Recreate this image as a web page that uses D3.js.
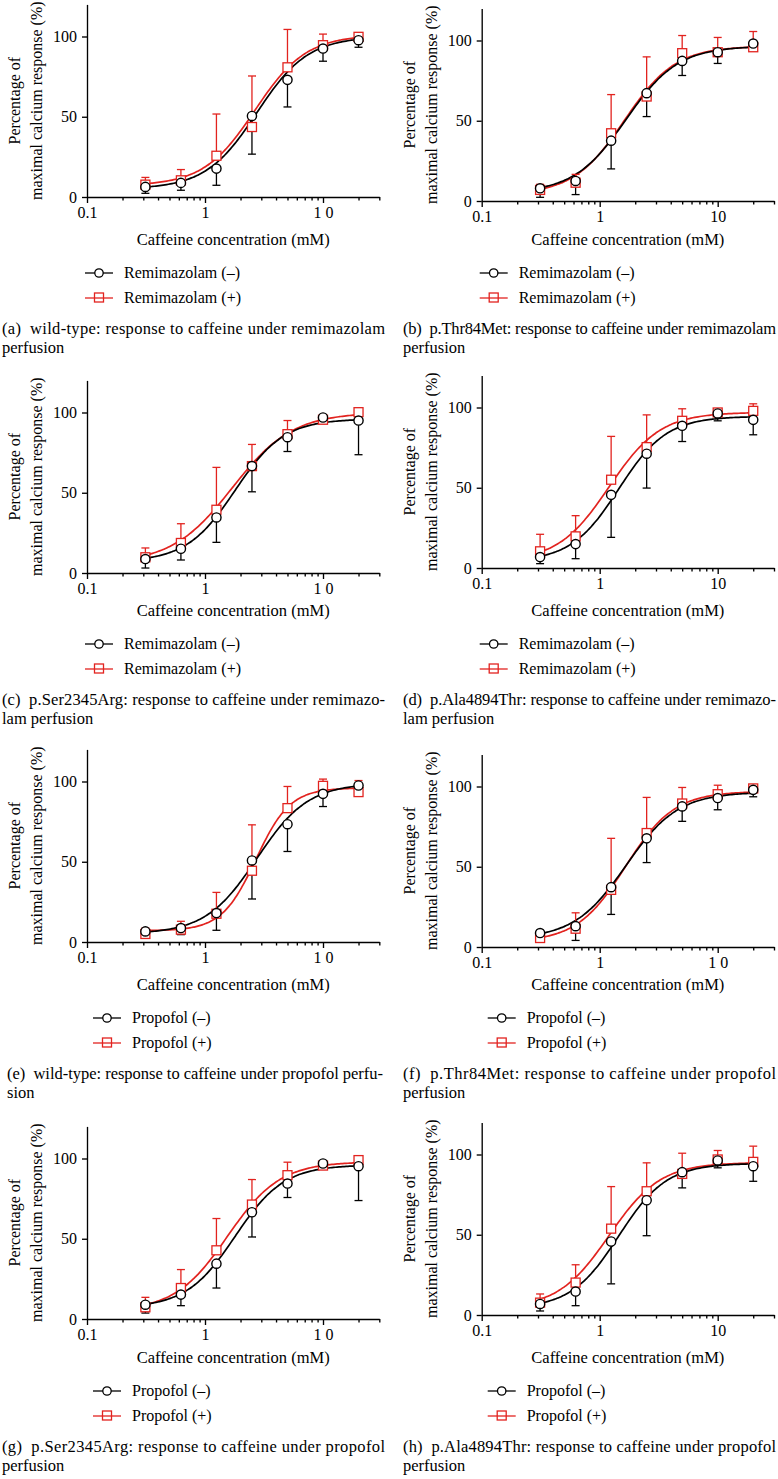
<!DOCTYPE html>
<html><head><meta charset="utf-8">
<script src="https://cdn.jsdelivr.net/npm/d3@7"></script>
<style>
body{margin:0;background:#fff}
svg{display:block;font-family:"Liberation Serif","Times New Roman",serif}
svg text{font-family:"Liberation Serif","Times New Roman",serif !important;fill:#000}
</style>
</head><body><svg id="chart" width="778" height="1479" font-family="Liberation Serif"></svg>
<script>
// ---------------- DATA ----------------
const concentrations = [0.3125, 0.625, 1.25, 2.5, 5, 10, 20]; // caffeine, mM
const panelLetters = ["a","b","c","d","e","f","g","h"];

// means (%), anaesthetic (-)  (black circles)
const meanMinus = [
  [6.3, 8.8, 17.7, 50.5, 73.0, 92.5, 97.7],
  [7.9, 12.5, 37.6, 67.2, 87.3, 92.7, 98.1],
  [8.7, 15.1, 34.6, 66.6, 84.6, 96.9, 95.0],
  [6.8, 14.9, 45.6, 71.2, 88.6, 96.3, 92.3],
  [6.6, 8.7, 18.0, 50.8, 73.4, 92.3, 97.5],
  [8.7, 13.0, 37.3, 67.7, 87.6, 92.8, 97.9],
  [8.9, 15.2, 34.5, 66.5, 84.4, 96.9, 95.2],
  [6.9, 14.6, 45.8, 71.5, 89.0, 96.3, 92.7]
];
// error (downward), anaesthetic (-)
const errMinus = [
  [4.0, 4.6, 10.4, 23.8, 16.9, 7.9, 4.4],
  [5.6, 8.5, 17.6, 14.6, 9.1, 7.0, 3.5],
  [5.6, 7.0, 15.5, 16.0, 8.9, 2.0, 21.3],
  [4.1, 9.1, 26.5, 21.4, 9.8, 4.6, 9.3],
  [4.0, 4.1, 10.7, 24.0, 17.0, 7.9, 4.8],
  [5.6, 8.9, 17.0, 15.1, 9.3, 7.3, 4.3],
  [5.2, 6.9, 15.2, 15.4, 8.7, 2.7, 21.4],
  [4.4, 8.8, 26.4, 22.1, 9.8, 4.6, 9.4]
];
// means (%), anaesthetic (+)  (red squares)
const meanPlus = [
  [7.7, 10.4, 25.7, 43.6, 80.8, 94.6, 99.8],
  [6.9, 11.4, 42.2, 65.1, 92.1, 92.7, 95.8],
  [9.8, 18.7, 39.4, 66.6, 86.5, 95.5, 100.2],
  [10.4, 19.7, 55.0, 75.3, 91.7, 96.9, 97.9],
  [5.0, 7.7, 17.6, 44.4, 83.4, 97.3, 93.4],
  [5.6, 11.4, 35.6, 71.0, 89.4, 95.2, 98.8],
  [7.3, 19.3, 42.8, 71.3, 89.6, 95.6, 99.0],
  [7.7, 20.2, 53.8, 77.1, 87.9, 96.9, 95.4]
];
// error (upward), anaesthetic (+)
const errPlus = [
  [4.5, 6.7, 26.0, 31.8, 23.6, 6.9, 1.5],
  [3.5, 5.2, 24.1, 24.7, 11.0, 9.2, 9.8],
  [5.8, 12.0, 26.4, 13.5, 8.5, 1.0, 1.0],
  [10.6, 12.9, 27.0, 20.1, 7.5, 1.5, 4.4],
  [3.7, 5.2, 13.3, 28.6, 13.5, 4.2, 7.2],
  [3.7, 9.9, 32.1, 22.2, 10.0, 5.6, 1.5],
  [6.2, 11.5, 19.8, 15.6, 8.1, 2.0, 1.0],
  [5.4, 11.1, 26.2, 17.7, 12.9, 5.6, 9.8]
];
// fitted dose-response (Hill) curves: [bottom, top, EC50 (mM), Hill slope]
const fitMinus = [
  [5, 100, 2.75, 2.0],
  [5, 96.5, 1.67, 1.97],
  [7, 96, 1.8, 2.1],
  [4, 94.5, 1.45, 2.14],
  [5, 99, 2.75, 2.0],
  [5, 96.5, 1.67, 1.97],
  [7, 96, 1.8, 2.1],
  [4, 94.5, 1.45, 2.14]
];
const fitPlus = [
  [7, 101, 2.65, 2.0],
  [4, 96.5, 1.62, 2.0],
  [6, 100, 1.7, 1.7],
  [4, 97, 1.2, 2.0],
  [7, 96, 2.7, 3.0],
  [3, 97, 1.65, 2.1],
  [5, 98, 1.55, 1.95],
  [4, 95, 1.2, 2.0]
];

const xMajorTicks = [0.1, 1, 10];
const xMinorTicks = [0.2,0.3,0.4,0.5,0.6,0.7,0.8,0.9,2,3,4,5,6,7,8,9,20,30];
const xTickLabels = [
  ["0.1","1","1 0"], ["0.1","1","10"], ["0.1","1","1 0"], ["0.1","1","10"],
  ["0.1","1","1 0"], ["0.1","1","1 0"], ["0.1","1","1 0"], ["0.1","1","10"]
];
const yTicks = [0, 50, 100];
const xDomain = [0.1, 30];
const yDomain = [0, 120];

const xTitle = "Caffeine concentration (mM)";
const yTitle = ["Percentage of", "maximal calcium response (%)"];
const legendMinus = ["Remimazolam (\u2013)","Remimazolam (\u2013)","Remimazolam (\u2013)","Remimazolam (\u2013)",
                     "Propofol (\u2013)","Propofol (\u2013)","Propofol (\u2013)","Propofol (\u2013)"];
const legendPlus  = ["Remimazolam (+)","Remimazolam (+)","Remimazolam (+)","Remimazolam (+)",
                     "Propofol (+)","Propofol (+)","Propofol (+)","Propofol (+)"];
const captionLine1 = [
  "(a)  wild-type: response to caffeine under remimazolam",
  "(b)  p.Thr84Met: response to caffeine under remimazolam",
  "(c)  p.Ser2345Arg: response to caffeine under remimazo-",
  "(d)  p.Ala4894Thr: response to caffeine under remimazo-",
  "(e)  wild-type: response to caffeine under propofol perfu-",
  "(f)  p.Thr84Met: response to caffeine under propofol",
  "(g)  p.Ser2345Arg: response to caffeine under propofol",
  "(h)  p.Ala4894Thr: response to caffeine under propofol"
];
const captionLine2 = ["perfusion","perfusion","lam perfusion","lam perfusion","sion","perfusion","perfusion","perfusion"];

// ---------------- LAYOUT ----------------
const SERIF = '"Liberation Serif","Times New Roman",serif';
const plotX0 = [87, 481.7, 87, 481.7, 87, 481.7, 87, 481.7];
const plotY0 = [197, 201, 573, 568, 942, 947, 1319, 1315];
const rowBase = [197, 197, 568, 568, 942, 942, 1315, 1315];
const plotW = 292.3, plotH = 192.6;
const capX = [2, 403, 2, 403, 7, 403, 2, 403];
const capLen = [383, 373, 383, 373, 376, 373, 383, 373];
const legendDX = [-2, -2, -2, -2, 6, 6, 6, 6];
const RED = "#e2231f";

const svg = d3.select("#chart");

function hill(p, c){ return p[0] + (p[1]-p[0])/(1+Math.pow(p[2]/c, p[3])); }
function txt(sel, size){ return sel.style("font-family", SERIF).style("font-size", size).attr("fill", "#000"); }

panelLetters.forEach((L, i) => {
  const x0 = plotX0[i], y0 = plotY0[i], rb = rowBase[i];
  const g = svg.append("g").attr("transform", `translate(${x0},${y0 - plotH})`);
  const x = d3.scaleLog().domain(xDomain).range([0, plotW]);
  const y = d3.scaleLinear().domain(yDomain).range([plotH, 0]);

  // axes
  const xa = g.append("g").attr("transform", `translate(0,${plotH})`)
    .call(d3.axisBottom(x).tickValues(xMajorTicks).tickSize(6).tickSizeOuter(0).tickPadding(4)
      .tickFormat((d, k) => xTickLabels[i][k]));
  const xm = g.append("g").attr("transform", `translate(0,${plotH})`)
    .call(d3.axisBottom(x).tickValues(xMinorTicks).tickSize(3.5).tickSizeOuter(0).tickFormat(""));
  xm.select(".domain").remove();
  const ya = g.append("g")
    .call(d3.axisLeft(y).tickValues(yTicks).tickSize(5).tickSizeOuter(0).tickPadding(5));
  [xa, xm, ya].forEach(a => {
    a.attr("font-family", SERIF).attr("font-size", null);
    a.selectAll("path,line").attr("stroke", "#000").attr("stroke-width", 1.35);
    txt(a.selectAll("text"), "16px").style("white-space", "pre");
  });

  // fitted curves
  const lx = d3.range(0, 121).map(k => Math.pow(10, Math.log10(concentrations[0]) +
      k/120*(Math.log10(concentrations[6]) - Math.log10(concentrations[0]))));
  const line = d3.line().x(d => x(d[0])).y(d => y(d[1])).curve(d3.curveBasis);
  g.append("path").attr("d", line(lx.map(c => [c, hill(fitPlus[i], c)])))
    .attr("fill","none").attr("stroke", RED).attr("stroke-width", 1.7);
  g.append("path").attr("d", line(lx.map(c => [c, hill(fitMinus[i], c)])))
    .attr("fill","none").attr("stroke", "#000").attr("stroke-width", 1.7);

  // error bars
  const drawErr = (means, errs, dir, color) => {
    const eb = g.append("g").attr("stroke", color).attr("stroke-width", 1.3).attr("fill","none");
    concentrations.forEach((c, k) => {
      const yEnd = y(means[k] + dir*errs[k]);
      eb.append("line").attr("x1", x(c)).attr("x2", x(c)).attr("y1", y(means[k])).attr("y2", yEnd);
      eb.append("line").attr("x1", x(c)-4).attr("x2", x(c)+4).attr("y1", yEnd).attr("y2", yEnd);
    });
  };
  drawErr(meanPlus[i], errPlus[i], +1, RED);
  drawErr(meanMinus[i], errMinus[i], -1, "#000");

  // markers
  g.append("g").selectAll("rect").data(concentrations).join("rect")
    .attr("x", c => x(c)-4.5).attr("y", (c,k) => y(meanPlus[i][k])-4.5)
    .attr("width", 9).attr("height", 9).attr("fill","#fff").attr("stroke", RED).attr("stroke-width", 1.3);
  g.append("g").selectAll("circle").data(concentrations).join("circle")
    .attr("cx", c => x(c)).attr("cy", (c,k) => y(meanMinus[i][k])).attr("r", 4.6)
    .attr("fill","#fff").attr("stroke", "#000").attr("stroke-width", 1.4);

  // y title
  const yc = plotH/2;
  txt(g.append("text").attr("transform", `translate(-67,${yc}) rotate(-90)`).attr("text-anchor","middle"), "16px")
    .text(yTitle[0]);
  txt(g.append("text").attr("transform", `translate(-45,${yc}) rotate(-90)`).attr("text-anchor","middle"), "16px")
    .text(yTitle[1]);

  // x title (aligned per row)
  txt(svg.append("text").attr("x", x0 + plotW/2).attr("y", rb + 48).attr("text-anchor","middle"), "16.5px")
    .text(xTitle);

  // legend
  const lg = svg.append("g").attr("transform", `translate(${x0 + legendDX[i]},${rb})`);
  const r1 = 76, r2 = 101;
  lg.append("line").attr("x1",0).attr("x2",28).attr("y1",r1).attr("y2",r1).attr("stroke","#000").attr("stroke-width",1.3);
  lg.append("circle").attr("cx",14).attr("cy",r1).attr("r",4.2).attr("fill","#fff").attr("stroke","#000").attr("stroke-width",1.3);
  txt(lg.append("text").attr("x",39).attr("y",r1+5), "16px").text(legendMinus[i]);
  lg.append("line").attr("x1",0).attr("x2",28).attr("y1",r2).attr("y2",r2).attr("stroke",RED).attr("stroke-width",1.3);
  lg.append("rect").attr("x",9.5).attr("y",r2-5).attr("width",9).attr("height",9).attr("fill","none").attr("stroke",RED).attr("stroke-width",1.3);
  txt(lg.append("text").attr("x",39).attr("y",r2+5), "16px").text(legendPlus[i]);

  // caption
  txt(svg.append("text").attr("x", capX[i]).attr("y", rb + 137)
    .attr("textLength", capLen[i]).attr("lengthAdjust","spacing"), "16.5px")
    .style("white-space","pre").text(captionLine1[i]);
  txt(svg.append("text").attr("x", capX[i]).attr("y", rb + 156), "16.5px").text(captionLine2[i]);
});
</script>
</body></html>
